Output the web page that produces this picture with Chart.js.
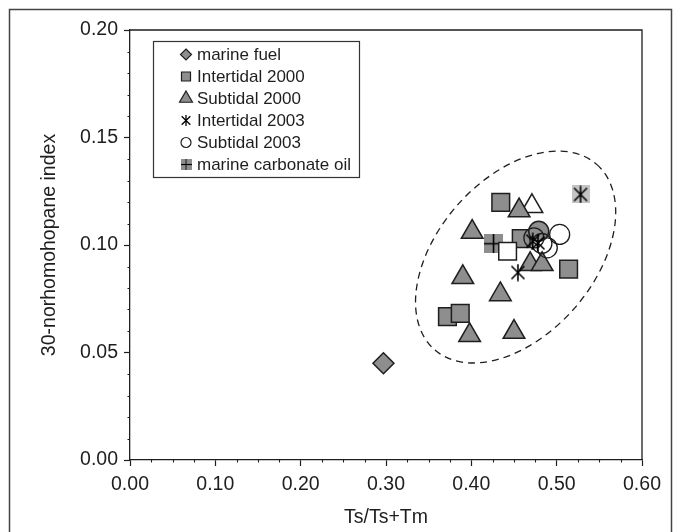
<!DOCTYPE html>
<html lang="en">
<head>
<meta charset="UTF-8" />
<title>30-norhomohopane index vs Ts/Ts+Tm</title>
<script src="https://cdn.jsdelivr.net/npm/chart.js"></script>
<style>
    html, body { margin: 0; padding: 0; background: #fff; }
    #wrap { width: 681px; height: 532px; }
</style>
</head>
<body>
<div id="wrap"><canvas id="plot" width="681" height="532"></canvas></div>

<script>
// values (x = Ts/Ts+Tm, y = 30-norhomohopane index)
const fuelX = [0.297];
const fuelY = [0.045];

const inter2000X = [0.372, 0.387, 0.4345, 0.4585, 0.514];
const inter2000Y = [0.0667, 0.0682, 0.1198, 0.1030, 0.0888];

const sub2000X = [0.390, 0.398, 0.401, 0.434, 0.450, 0.456, 0.469, 0.483];
const sub2000Y = [0.085, 0.058, 0.106, 0.077, 0.0595, 0.116, 0.091, 0.091];

const inter2003X = [0.4546, 0.472, 0.478];
const inter2003Y = [0.0872, 0.1018, 0.101];

const sub2003X = [0.4733, 0.4827, 0.489, 0.5035];
const sub2003Y = [0.1033, 0.1007, 0.0987, 0.1049];

const carbonateX = [0.426];
const carbonateY = [0.1006];

// odd markers in the cloud that have no legend entry
const openSquareX = [0.4425];
const openSquareY = [0.0971];
const openTriangleX = [0.471];
const openTriangleY = [0.118];
const grayCircleX = [0.479];
const grayCircleY = [0.1064];
const boxedStarX = [0.528];
const boxedStarY = [0.1235];

const xTicks = [0, 0.1, 0.2, 0.3, 0.4, 0.5, 0.6];
const yTicks = [0, 0.05, 0.10, 0.15, 0.20];

// dashed ellipse: centre, end of long axis, end of short axis (data units)
const ring = { c: [0.4519, 0.0944], major: [0.5469, 0.1375], minor: [0.5207, 0.0705] };

const FONT = '"Liberation Sans", Arial, Helvetica, sans-serif';
const GREY = '#8e8e8e';
const INK = '#1e1e1e';

function pts(xs, ys) { return xs.map((x, i) => ({ x: x, y: ys[i] })); }

// asterisk lines (x with a vertical bar)
function starPath(g, m, n, s) {
    const d = s * 0.36;
    g.beginPath();
    g.moveTo(m, n - s / 2 + 0.5); g.lineTo(m, n + s / 2 - 0.5);
    g.moveTo(m - d, n - d); g.lineTo(m + d, n + d);
    g.moveTo(m - d, n + d); g.lineTo(m + d, n - d);
    g.stroke();
}

function starCanvas(size, bg) {
    const c = document.createElement('canvas');
    c.width = c.height = size;
    const g = c.getContext('2d');
    if (bg) { g.fillStyle = bg; g.fillRect(0, 0, size, size); }
    g.strokeStyle = '#000';
    g.lineWidth = 1.6;
    starPath(g, size / 2, size / 2, size);
    return c;
}

// grey square with a plus through it
function plusCanvas(size) {
    const c = document.createElement('canvas');
    c.width = c.height = size;
    const g = c.getContext('2d');
    const m = size / 2;
    g.fillStyle = GREY;
    g.fillRect(0, 0, size, size);
    g.strokeStyle = '#000';
    g.lineWidth = 1.6;
    g.beginPath();
    g.moveTo(m, 0); g.lineTo(m, size);
    g.moveTo(0, m); g.lineTo(size, m);
    g.stroke();
    return c;
}

const starMark = starCanvas(18);
const boxedStar = starCanvas(18, '#c4c4c4');
const plusMark = plusCanvas(19);

function ds(label, xs, ys, style, radius, fill, order, extra) {
    return Object.assign({
        label: label,
        data: pts(xs, ys),
        pointStyle: style,
        pointRadius: radius,
        pointBackgroundColor: fill,
        pointBorderColor: INK,
        pointBorderWidth: 1.5,
        order: order
    }, extra || {});
}

const datasets = [
    ds('marine fuel', fuelX, fuelY, 'rectRot', 10.5, GREY, 6),
    ds('Intertidal 2000', inter2000X, inter2000Y, 'rect', 12.5, GREY, 4),
    ds('Subtidal 2000', sub2000X, sub2000Y, 'triangle', 12.5, GREY, 3),
    ds('Intertidal 2003', inter2003X, inter2003Y, starMark, 9, INK, 0),
    ds('Subtidal 2003', sub2003X, sub2003Y, 'circle', 10, 'rgba(0,0,0,0)', 1, { pointBorderWidth: 1.3 }),
    ds('marine carbonate oil', carbonateX, carbonateY, plusMark, 9.5, GREY, 5),
    ds('', openSquareX, openSquareY, 'rect', 12.5, '#fff', 2, { noLegend: true }),
    ds('', openTriangleX, openTriangleY, 'triangle', 12.5, '#fff', 3, { noLegend: true }),
    ds('', grayCircleX, grayCircleY, 'circle', 10, GREY, 2, { noLegend: true }),
    ds('', boxedStarX, boxedStarY, boxedStar, 9, INK, 0, { noLegend: true })
];

// legend marker drawing (smaller than the plot markers)
function legendMarker(ctx, d, x, y) {
    ctx.save();
    ctx.fillStyle = d.pointBackgroundColor;
    ctx.strokeStyle = INK;
    ctx.lineWidth = 1.2;
    const s = d.pointStyle;
    if (s === starMark) {
        ctx.strokeStyle = '#000';
        ctx.lineWidth = 1.3;
        starPath(ctx, x, y, 12);
        ctx.restore();
        return;
    }
    if (s instanceof HTMLCanvasElement) {
        ctx.drawImage(s, x - 5.5, y - 5.5, 11, 11);
        ctx.restore();
        return;
    }
    ctx.beginPath();
    if (s === 'rectRot') {
        ctx.moveTo(x, y - 5.5); ctx.lineTo(x + 5.5, y); ctx.lineTo(x, y + 5.5); ctx.lineTo(x - 5.5, y);
        ctx.closePath();
    } else if (s === 'rect') {
        ctx.rect(x - 4.5, y - 4.5, 9, 9);
    } else if (s === 'triangle') {
        const r = 7.5;
        ctx.moveTo(x, y - r);
        ctx.lineTo(x + r * 0.866, y + r * 0.5);
        ctx.lineTo(x - r * 0.866, y + r * 0.5);
        ctx.closePath();
    } else {
        ctx.arc(x, y, 5, 0, Math.PI * 2);
    }
    ctx.fill();
    ctx.stroke();
    ctx.restore();
}

const decor = {
    id: 'decor',
    beforeDraw(chart) {
        const ctx = chart.ctx;
        ctx.save();
        ctx.fillStyle = '#fff';
        ctx.fillRect(0, 0, chart.width, chart.height);
        // outer frame, open at the bottom (cropped in the figure)
        ctx.strokeStyle = '#444';
        ctx.lineWidth = 1.5;
        ctx.beginPath();
        ctx.moveTo(9.5, chart.height); ctx.lineTo(9.5, 9.5);
        ctx.lineTo(671.5, 9.5); ctx.lineTo(671.5, chart.height);
        ctx.stroke();
        ctx.restore();
    },
    beforeDatasetsDraw(chart) {
        const ctx = chart.ctx, xs = chart.scales.x, ys = chart.scales.y;
        const cx = xs.getPixelForValue(ring.c[0]), cy = ys.getPixelForValue(ring.c[1]);
        const ax = xs.getPixelForValue(ring.major[0]) - cx, ay = ys.getPixelForValue(ring.major[1]) - cy;
        const bx = xs.getPixelForValue(ring.minor[0]) - cx, by = ys.getPixelForValue(ring.minor[1]) - cy;
        ctx.save();
        ctx.strokeStyle = INK;
        ctx.lineWidth = 1.3;
        ctx.setLineDash([7, 5]);
        ctx.beginPath();
        ctx.ellipse(cx, cy, Math.hypot(ax, ay), Math.hypot(bx, by), Math.atan2(ay, ax), 0, Math.PI * 2);
        ctx.stroke();
        ctx.restore();
    },
    afterDraw(chart) {
        const ctx = chart.ctx, a = chart.chartArea, xs = chart.scales.x, ys = chart.scales.y;
        ctx.save();
        ctx.strokeStyle = INK;
        ctx.lineWidth = 1.3;
        // top and right sides of the plot box
        ctx.beginPath();
        ctx.moveTo(a.left, a.top); ctx.lineTo(a.right, a.top); ctx.lineTo(a.right, a.bottom);
        ctx.stroke();
        // minor ticks
        ctx.lineWidth = 1.1;
        ctx.beginPath();
        for (let i = 1; i < 20; i++) {
            if (i % 5 === 0) continue;
            const py = Math.round(ys.getPixelForValue(i * 0.01)) + 0.5;
            ctx.moveTo(a.left - 2.5, py); ctx.lineTo(a.left, py);
        }
        for (let i = 1; i < 24; i++) {
            if (i % 4 === 0) continue;
            const px = Math.round(xs.getPixelForValue(i * 0.025)) + 0.5;
            ctx.moveTo(px, a.bottom); ctx.lineTo(px, a.bottom + 2.5);
        }
        ctx.stroke();

        // legend box
        const items = chart.data.datasets.filter(d => !d.noLegend);
        ctx.font = '17px ' + FONT;
        const textX = a.left + 67, markX = a.left + 56;
        const top = a.top + 11, rowH = 22, first = top + 13.5;
        let w = 0;
        items.forEach(d => { w = Math.max(w, ctx.measureText(d.label).width); });
        const boxL = a.left + 23.5, boxR = Math.round(textX + w + 8) + 0.5;
        const boxB = Math.round(first + rowH * (items.length - 1) + 12) + 0.5;
        ctx.fillStyle = '#fff';
        ctx.fillRect(boxL, top + 0.5, boxR - boxL, boxB - top - 0.5);
        ctx.strokeStyle = '#333';
        ctx.lineWidth = 1.2;
        ctx.strokeRect(boxL, top + 0.5, boxR - boxL, boxB - top - 0.5);
        ctx.textBaseline = 'middle';
        ctx.textAlign = 'left';
        items.forEach((d, i) => {
            const y = first + i * rowH;
            legendMarker(ctx, d, markX, y);
            ctx.fillStyle = INK;
            ctx.fillText(d.label, textX, y + 1);
        });
        ctx.restore();
    }
};

const tickFont = { family: FONT, size: 19.5 };

new Chart(document.getElementById('plot'), {
    type: 'scatter',
    data: { datasets: datasets },
    options: {
        responsive: false,
        animation: false,
        events: [],
        layout: { padding: { top: 30, right: 39, left: 0, bottom: 0 } },
        plugins: { legend: { display: false }, tooltip: { enabled: false } },
        scales: {
            x: {
                type: 'linear',
                min: 0, max: 0.6,
                afterBuildTicks: s => { s.ticks = xTicks.map(v => ({ value: v })); },
                afterFit: s => { s.height = 72; },
                ticks: { font: tickFont, color: INK, padding: 7, maxRotation: 0,
                         callback: v => Number(v).toFixed(2) },
                grid: { drawOnChartArea: false, tickLength: 6, tickWidth: 1.2, tickColor: INK },
                border: { color: INK, width: 1.3 },
                title: { display: true, text: 'Ts/Ts+Tm', font: tickFont, color: INK,
                         padding: { top: 3, bottom: 3 } }
            },
            y: {
                type: 'linear',
                min: 0, max: 0.2,
                afterBuildTicks: s => { s.ticks = yTicks.map(v => ({ value: v })); },
                afterFit: s => { s.width = 130; },
                ticks: { font: tickFont, color: INK, padding: 6,
                         callback: v => Number(v).toFixed(2) },
                grid: { drawOnChartArea: false, tickLength: 6, tickWidth: 1.2, tickColor: INK },
                border: { color: INK, width: 1.3 },
                title: { display: true, text: '30-norhomohopane index', font: tickFont, color: INK,
                         padding: { top: 38, bottom: 38 } }
            }
        }
    },
    plugins: [decor]
});
</script>
</body>
</html>
